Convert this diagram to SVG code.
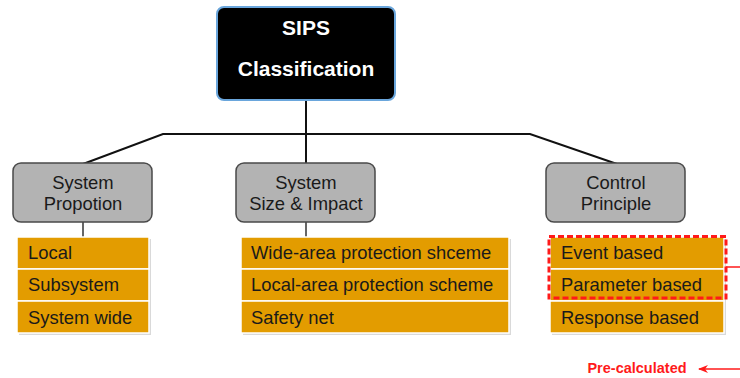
<svg xmlns="http://www.w3.org/2000/svg" width="740" height="378" viewBox="0 0 740 378">
<defs>
<style>
.cat{fill:#b3b3b3;stroke:#4a4a4a;stroke-width:1.5}
.cell{fill:#e39c00;stroke:#ffffff;stroke-width:1.5}
.sh{fill:#d9d9d9}
.t{font-family:"Liberation Sans",Arial,sans-serif;font-size:18.4px;fill:#1a1a1a}
.tc{font-family:"Liberation Sans",Arial,sans-serif;font-size:18.4px;fill:#1a1a1a;text-anchor:middle}
.conn{stroke:#111;stroke-width:2;fill:none}
.conn2{stroke:#333;stroke-width:1.5;fill:none}
</style>
<marker id="ah" viewBox="0 0 10 8" refX="9" refY="4" markerWidth="10" markerHeight="8" orient="auto" markerUnits="userSpaceOnUse">
<path d="M10,4 L0,0 L3,4 L0,8 z" fill="#ff1a1a"/>
</marker>
</defs>
<rect width="740" height="378" fill="#ffffff"/>
<g id="connectors">
<line class="conn" x1="306" y1="100" x2="306" y2="164"/>
<polyline class="conn" points="83,164 163,134 530,134 617,164"/>
<line class="conn2" x1="83" y1="222" x2="83" y2="237"/>
<line class="conn2" x1="306" y1="222" x2="306" y2="237"/>
</g>
<g id="root">
<rect x="217" y="7" width="178" height="93" rx="7" fill="#000" stroke="#6aa6dc" stroke-width="2"/>
<text x="306" y="35" text-anchor="middle" font-family="Liberation Sans,Arial,sans-serif" font-size="21" font-weight="bold" fill="#fff">SIPS</text>
<text x="306" y="76" text-anchor="middle" font-family="Liberation Sans,Arial,sans-serif" font-size="21" font-weight="bold" fill="#fff">Classification</text>
</g>
<g id="cat1">
<rect class="cat" x="13" y="163" width="139" height="59" rx="8"/>
<text class="tc" x="83" y="189">System</text>
<text class="tc" x="83" y="210">Propotion</text>
</g>
<g id="cat2">
<rect class="cat" x="236" y="163" width="139" height="59" rx="8"/>
<text class="tc" x="306" y="189">System</text>
<text class="tc" x="306" y="210">Size &amp; Impact</text>
</g>
<g id="cat3">
<rect class="cat" x="546" y="163" width="139" height="59" rx="8"/>
<text class="tc" x="616" y="189">Control</text>
<text class="tc" x="616" y="210">Principle</text>
</g>
<g id="list1">
<rect class="sh" x="19" y="239" width="132" height="96"/>
<rect class="cell" x="17" y="237" width="132" height="32"/>
<rect class="cell" x="17" y="269" width="132" height="32"/>
<rect class="cell" x="17" y="301" width="132" height="32"/>
<text class="t" x="28" y="259">Local</text>
<text class="t" x="28" y="291">Subsystem</text>
<text class="t" x="28" y="324">System wide</text>
</g>
<g id="list2">
<rect class="sh" x="243" y="239" width="268" height="96"/>
<rect class="cell" x="241" y="237" width="268" height="32"/>
<rect class="cell" x="241" y="269" width="268" height="32"/>
<rect class="cell" x="241" y="301" width="268" height="32"/>
<text class="t" x="251" y="259">Wide-area protection shceme</text>
<text class="t" x="251" y="291">Local-area protection scheme</text>
<text class="t" x="251" y="324">Safety net</text>
</g>
<g id="list3">
<rect class="sh" x="552" y="239" width="174" height="96"/>
<rect class="cell" x="550" y="237" width="174" height="32"/>
<rect class="cell" x="550" y="269" width="174" height="32"/>
<rect class="cell" x="550" y="301" width="174" height="32"/>
<text class="t" x="561" y="259">Event based</text>
<text class="t" x="561" y="291">Parameter based</text>
<text class="t" x="561" y="324">Response based</text>
</g>
<g id="precalc">
<rect x="549" y="236.5" width="177" height="61.5" fill="none" stroke="#ff1a1a" stroke-width="3" stroke-dasharray="6,3"/>
<line x1="726" y1="267" x2="740" y2="267" stroke="#ff1a1a" stroke-width="1.5"/>
<line x1="740" y1="369" x2="699" y2="369" stroke="#ff1a1a" stroke-width="1.5" marker-end="url(#ah)"/>
<text x="637" y="373" text-anchor="middle" font-family="Liberation Sans,Arial,sans-serif" font-size="14.5" font-weight="bold" fill="#ff1a1a">Pre-calculated</text>
</g>
</svg>
